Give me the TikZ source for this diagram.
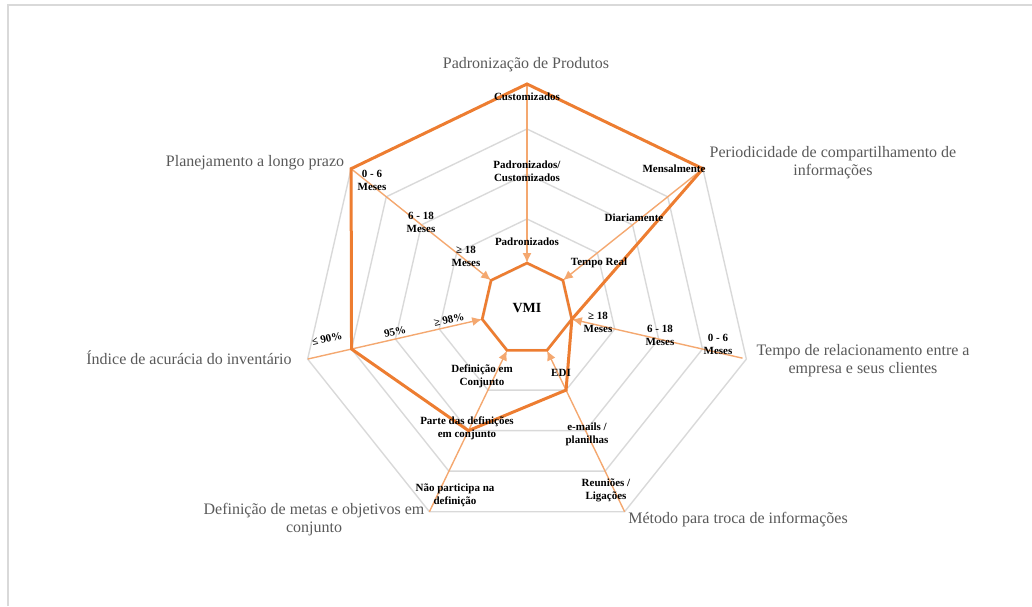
\documentclass[tikz,border=0pt]{standalone}
\usepackage{fontspec}
\setmainfont{Liberation Serif}
\usetikzlibrary{arrows.meta}
\definecolor{ringgray}{HTML}{D9D9D9}
\definecolor{titlegray}{HTML}{595959}
\definecolor{dataorange}{HTML}{ED7D31}
\definecolor{spokeorange}{HTML}{F4A870}
\begin{document}
\begin{tikzpicture}[x=1pt,y=1pt,
  ring/.style={draw=ringgray, line width=1.4pt},
  spoke/.style={draw=spokeorange, line width=1.4pt, -{Latex[length=10pt,width=9pt]}},
  datapoly/.style={draw=dataorange, line width=3pt, line join=miter},
  core/.style={draw=dataorange, line width=2.6pt, line join=miter},
  level/.style={font=\fontsize{11}{13}\selectfont\bfseries, align=center, inner sep=0pt},
  axistitle/.style={font=\fontsize{16}{18}\selectfont, text=titlegray, align=center, inner sep=0pt},
]
\useasboundingbox (0,0) rectangle (1032,606);
% outer frame (left and top edges)
\draw[ringgray, line width=1.5pt] (8,0) -- (8,601) -- (1032,601);

% grid points: axis k (clockwise from the top), level j (radius 45*j)
\begin{scope}[shift={(527,297)}]
  \foreach \k in {0,...,6}{
    \pgfmathsetmacro\ang{90-\k*360/7}
    \foreach \j in {1,...,5}{
      \coordinate (p\k-\j) at (\ang:{45*\j});
    }
    \coordinate (c\k) at (\ang:46);
  }
  \coordinate (s2) at ({90-2*360/7}:221);
\end{scope}

% rings
\foreach \j in {1,...,5}
  \draw[ring] (p0-\j) -- (p1-\j) -- (p2-\j) -- (p3-\j) -- (p4-\j) -- (p5-\j) -- (p6-\j) -- cycle;

% spokes pointing at the core
\foreach \k in {0,1,3,4,5,6}
  \draw[spoke] (p\k-5) -- (c\k);
\draw[spoke] (s2) -- (c2);

% data polygon
\draw[datapoly] (p0-5) -- (p1-5) -- (c2) -- (p3-2) -- (p4-3) -- (p5-4) -- (p6-5) -- cycle;

% core heptagon
\draw[core] (c0) -- (c1) -- (c2) -- (c3) -- (c4) -- (c5) -- (c6) -- cycle;
\node[font=\fontsize{14}{16}\selectfont\bfseries, inner sep=0pt] (vmi) at (527,298) {VMI};

% level labels
\node[level] (l01) at (527,509) {Customizados};
\node[level] (l02) at (527,435) {Padronizados/\\Customizados};
\node[level] (l03) at (527,364) {Padronizados};

\node[level] (l11) at (674,437) {Mensalmente};
\node[level] (l12) at (634,388) {Diariamente};
\node[level] (l13) at (599,343) {Tempo Real};

\node[level] (l21) at (718,262) {0 - 6\\Meses};
\node[level] (l22) at (660,271) {6 - 18\\Meses};
\node[level] (l23) at (598,284) {≥ 18\\Meses};

\node[level] (l31) at (606,116) {Reuniões /\\Ligações};
\node[level] (l32) at (587,172) {e-mails /\\planilhas};
\node[level] (l33) at (561,233) {EDI};

\node[level] (l41) at (455,111) {Não participa na\\definição};
\node[level] (l42) at (467,178) {Parte das definições\\em conjunto};
\node[level] (l43) at (482,230) {Definição em\\Conjunto};

\node[level, rotate=12.86] (l51) at (327,267) {≤ 90\%};
\node[level, rotate=12.86] (l52) at (395,274) {95\%};
\node[level, rotate=12.86] (l53) at (449,286) {≥ 98\%};

\node[level] (l61) at (372,426) {0 - 6\\Meses};
\node[level] (l62) at (421,384) {6 - 18\\Meses};
\node[level] (l63) at (466,350) {≥ 18\\Meses};

% axis titles
\node[axistitle] (t0) at (526,541) {Padronização de Produtos};
\node[axistitle] (t1) at (833,443) {Periodicidade de compartilhamento de\\informações};
\node[axistitle] (t2) at (863,245) {Tempo de relacionamento entre a\\empresa e seus clientes};
\node[axistitle] (t3) at (738,86) {Método para troca de informações};
\node[axistitle] (t4) at (314,86) {Definição de metas e objetivos em\\conjunto};
\node[axistitle] (t5) at (189,248) {Índice de acurácia do inventário};
\node[axistitle] (t6) at (255,443) {Planejamento a longo prazo};
\end{tikzpicture}
\end{document}
